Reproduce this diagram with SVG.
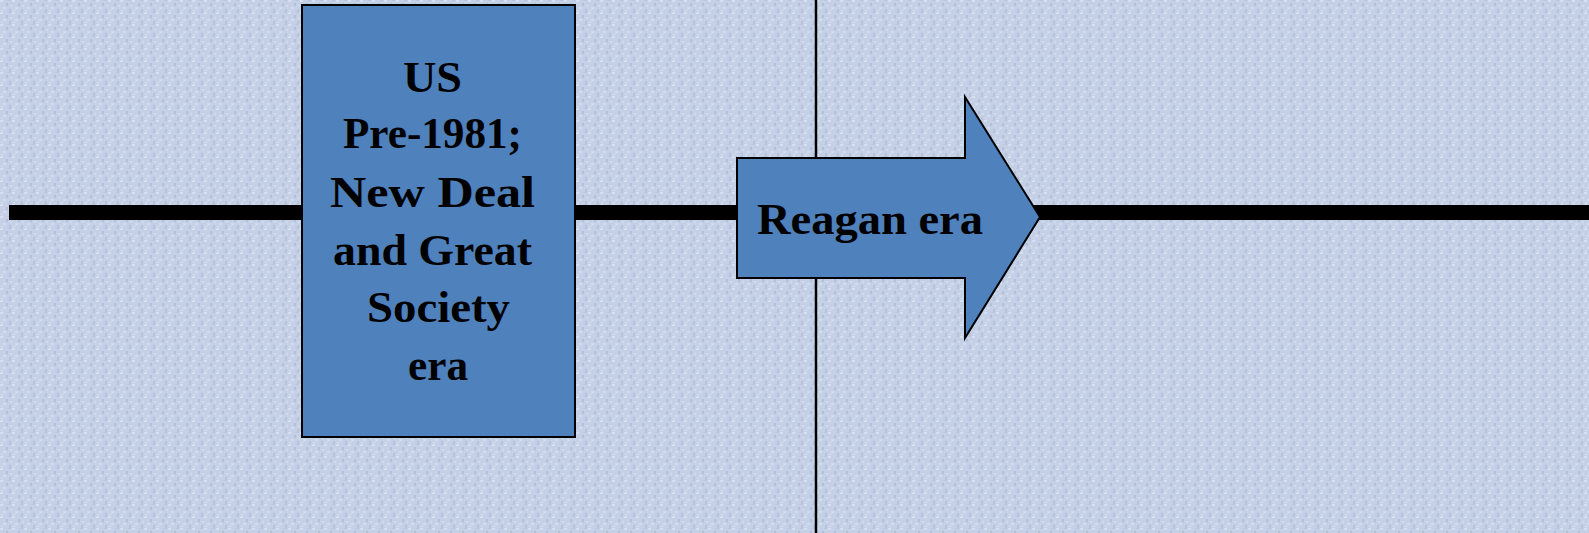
<svg xmlns="http://www.w3.org/2000/svg" width="1589" height="533" viewBox="0 0 1589 533">
  <style>
    .shape { fill: #4f81bd; stroke: #000000; stroke-width: 2; }
    .label { font-family: "Liberation Serif", "Times New Roman", serif; font-weight: bold; font-size: 44px; fill: #000000; }
    .axis { stroke: #000000; fill: none; }
  </style>
  <defs>
    <pattern id="weave" x="0" y="0" width="12" height="12" patternUnits="userSpaceOnUse">
      <rect width="12" height="12" fill="#c4d0e6"/>
      <rect x="0" y="0" width="3" height="2" fill="#d6e0f0"/>
      <rect x="6" y="3" width="2" height="3" fill="#b3c0d8"/>
      <rect x="3" y="7" width="3" height="2" fill="#d3ddef"/>
      <rect x="9" y="9" width="2" height="3" fill="#b6c3da"/>
      <rect x="8" y="0" width="3" height="1" fill="#bac6dd"/>
      <rect x="1" y="10" width="2" height="1" fill="#d9e2f2"/>
      <rect x="10" y="5" width="2" height="2" fill="#d0daec"/>
    </pattern>
  </defs>
  <rect x="0" y="0" width="1589" height="533" fill="url(#weave)"/>

  <g id="connectors">
    <line class="axis" x1="9" y1="212.5" x2="1589" y2="212.5" stroke-width="15"/>
    <line class="axis" x1="816" y1="0" x2="816" y2="533" stroke-width="2.5"/>
  </g>

  <g id="node-pre1981">
    <rect class="shape" x="302" y="5" width="273" height="432"/>
    <text class="label" x="403" y="92" textLength="59" lengthAdjust="spacingAndGlyphs">US</text>
    <text class="label" x="343" y="148" textLength="179" lengthAdjust="spacingAndGlyphs">Pre-1981;</text>
    <text class="label" x="330" y="207" textLength="205" lengthAdjust="spacingAndGlyphs">New Deal</text>
    <text class="label" x="333" y="265" textLength="199" lengthAdjust="spacingAndGlyphs">and Great</text>
    <text class="label" x="367" y="322" textLength="143" lengthAdjust="spacingAndGlyphs">Society</text>
    <text class="label" x="408" y="380" textLength="60" lengthAdjust="spacingAndGlyphs">era</text>
  </g>

  <g id="node-reagan">
    <polygon class="shape" points="737,158 965,158 965,97 1040,217 965,338 965,278 737,278"/>
    <text class="label" x="757" y="234" textLength="226" lengthAdjust="spacingAndGlyphs">Reagan era</text>
  </g>
</svg>
